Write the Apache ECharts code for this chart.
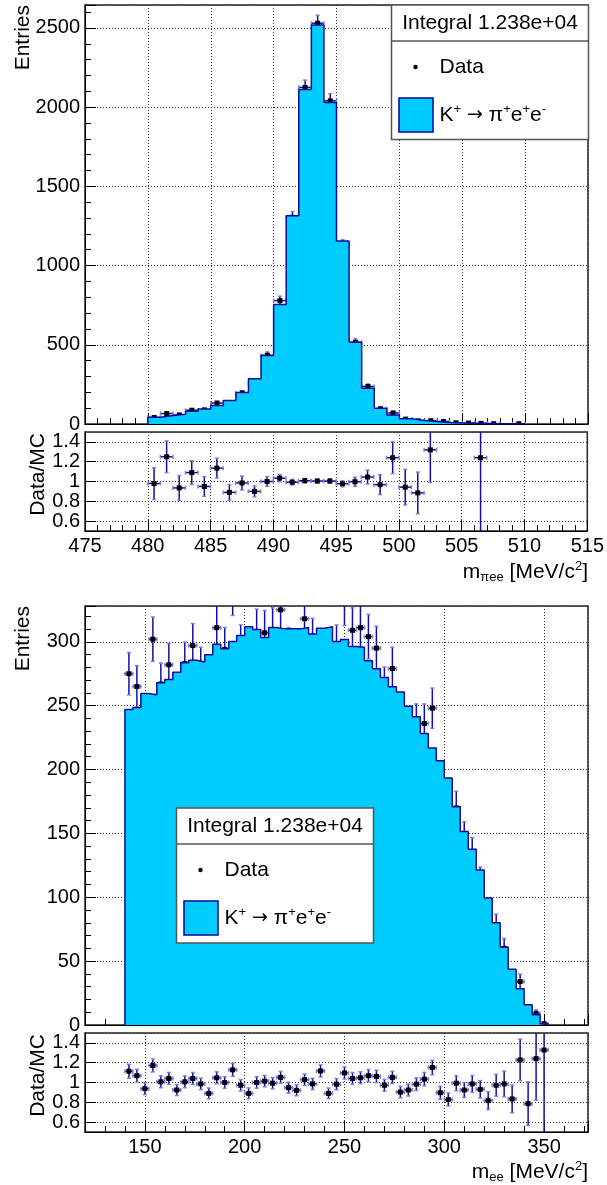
<!DOCTYPE html>
<html>
<head>
<meta charset="utf-8">
<script src="https://cdn.jsdelivr.net/npm/echarts@6/dist/echarts.min.js"></script>
<style>
html, body { margin: 0; padding: 0; background: #fff; }
#chart { width: 607px; height: 1185px; }
</style>
</head>
<body>
<div id="chart"></div>
<script>
// upper plot: m(pi ee), 1 MeV bins
const topCenters = [480.5, 481.5, 482.5, 483.5, 484.5, 485.5, 486.5, 487.5, 488.5, 489.5,
    490.5, 491.5, 492.5, 493.5, 494.5, 495.5, 496.5, 497.5, 498.5, 499.5,
    500.5, 501.5, 502.5, 503.5, 504.5, 505.5, 506.5, 507.5, 508.5, 509.5];
const topMC = [42, 53, 61, 80, 94, 116, 148, 199, 285, 432,
    755, 1315, 2112, 2518, 2030, 1155, 516, 226, 99, 57,
    33, 22, 16, 10, 6, 4, 3, 2, 1, 1];
const topData = [41, 66, 57, 87, 89, 132, 131, 196, 256, 434,
    779, 1305, 2125, 2530, 2040, 1130, 516, 237, 96, 70,
    31, 20, 21, 16, 8, 6, 4, 2, null, 2];
const topRatio = [0.98, 1.25, 0.935, 1.09, 0.95, 1.135, 0.89, 0.985, 0.9, 1.0,
    1.034, 0.993, 1.008, 1.005, 1.005, 0.977, 0.998, 1.045, 0.968, 1.24,
    0.943, 0.885, 1.32, null, null, null, 1.24, null, null, null];
const topRatioErr = [0.16, 0.16, 0.125, 0.12, 0.1, 0.1, 0.08, 0.07, 0.055, 0.048,
    0.037, 0.028, 0.022, 0.02, 0.022, 0.03, 0.045, 0.07, 0.1, 0.16,
    0.18, 0.21, 0.33, null, null, null, 1.5, null, null, null];

// lower plot: m(ee), 4 MeV bins
const bottomCenters = [142, 146, 150, 154, 158, 162, 166, 170, 174, 178,
    182, 186, 190, 194, 198, 202, 206, 210, 214, 218,
    222, 226, 230, 234, 238, 242, 246, 250, 254, 258,
    262, 266, 270, 274, 278, 282, 286, 290, 294, 298,
    302, 306, 310, 314, 318, 322, 326, 330, 334, 338,
    342, 346, 350];
const bottomMC = [247, 248.6, 259.5, 258.5, 267.9, 270.5, 276.2, 283.5, 285.6, 284.1,
    289.8, 298.1, 294.5, 300.2, 304.9, 311.7, 309.6, 303.3, 311.2, 310.1,
    310.1, 310.1, 311.2, 306.0, 310.6, 311.7, 300.2, 301.8, 296.3, 295.8,
    285.1, 278.8, 272.0, 264.7, 260.6, 249.6, 241.3, 228.2, 216.8, 206.8,
    193.3, 170.8, 151.5, 137.5, 121.3, 99.4, 80.1, 60.8, 43.6, 28.4,
    15.9, 8.1, 1.0];
const bottomData = [275, 265, 243, 302, 267, 282, 255, 283, 297, 279,
    259, 311, 294, 339, 296, 276, 308, 307, 309, 325,
    294, 285, 318, 301, 347, 276, 296, 331, 309, 311,
    304, 295, 264, 279, 235, 230, 236, 236, 248, 185,
    160, 170, 147, 135, 113, 82, 78, 60, 36, 34,
    12, 9, 1];
const bottomRatio = [1.114, 1.069, 0.938, 1.172, 1.007, 1.041, 0.924, 1.007, 1.041, 0.986,
    0.890, 1.048, 1.0, 1.128, 0.972, 0.890, 1.0, 1.014, 0.993, 1.052,
    0.948, 0.921, 1.028, 0.986, 1.117, 0.890, 0.983, 1.097, 1.041, 1.048,
    1.069, 1.062, 0.972, 1.052, 0.903, 0.924, 0.983, 1.034, 1.152, 0.897,
    0.828, 0.993, 0.924, 0.986, 0.931, 0.817, 0.972, 0.986, 0.834, 1.228,
    0.786, 1.241, 1.328];
const bottomRatioErr = [0.07, 0.065, 0.06, 0.065, 0.06, 0.06, 0.055, 0.06, 0.06, 0.058,
    0.055, 0.06, 0.058, 0.065, 0.057, 0.055, 0.058, 0.058, 0.057, 0.06,
    0.055, 0.055, 0.058, 0.057, 0.062, 0.053, 0.057, 0.062, 0.06, 0.06,
    0.062, 0.062, 0.06, 0.062, 0.058, 0.06, 0.064, 0.068, 0.073, 0.066,
    0.066, 0.076, 0.076, 0.085, 0.088, 0.09, 0.11, 0.13, 0.14, 0.21,
    0.22, 0.42, 1.3];

const FONT = "'Liberation Sans', Arial, Helvetica, sans-serif";
const FILL = "#00ccff";
const LINE = "#0a0a9c";
const ERR = "#1010a8";
const CAP = "#7d7de0";

// outline of a histogram for a step line
function stepPoints (centers, values, width) {
    const pts = [[centers[0] - width / 2, 0]];
    centers.forEach((c, i) => pts.push([c - width / 2, values[i]]));
    const hi = centers[centers.length - 1] + width / 2;
    pts.push([hi, values[values.length - 1]]);
    pts.push([hi, 0]);
    return pts;
}

// [x, y, half bin width, y error]
function pointsWithErr (centers, values, errs, width) {
    const out = [];
    centers.forEach((c, i) => {
        if (values[i] == null) return;
        const e = errs ? errs[i] : Math.sqrt(values[i]);
        out.push([c, values[i], width / 2, e]);
    });
    return out;
}

function renderErr (params, api) {
    const x = api.value(0), y = api.value(1), ex = api.value(2), ey = api.value(3);
    const c = api.coord([x, y]);
    const l = api.coord([x - ex, y]);
    const r = api.coord([x + ex, y]);
    const t = api.coord([x, y + ey]);
    const b = api.coord([x, y - ey]);
    const s = { stroke: ERR, lineWidth: 1.5 };
    const cs = { stroke: CAP, lineWidth: 1.5 };
    return {
        type: "group",
        children: [
            { type: "line", shape: { x1: c[0], y1: t[1], x2: c[0], y2: b[1] }, style: s },
            { type: "line", shape: { x1: l[0], y1: c[1], x2: r[0], y2: c[1] }, style: s },
            { type: "line", shape: { x1: c[0] - 2, y1: t[1], x2: c[0] + 2, y2: t[1] }, style: cs },
            { type: "line", shape: { x1: c[0] - 2, y1: b[1], x2: c[0] + 2, y2: b[1] }, style: cs },
            { type: "line", shape: { x1: l[0], y1: c[1] - 2, x2: l[0], y2: c[1] + 2 }, style: cs },
            { type: "line", shape: { x1: r[0], y1: c[1] - 2, x2: r[0], y2: c[1] + 2 }, style: cs },
            { type: "rect", shape: { x: c[0] - 2.5, y: c[1] - 2.5, width: 5, height: 5 }, style: { fill: "#000" } }
        ]
    };
}

function labels (extra) {
    return Object.assign({
        show: true, fontSize: 20, color: "#000", fontFamily: FONT, margin: 5,
        formatter: v => String(v)
    }, extra);
}

function axis (gridIndex, extra) {
    return Object.assign({
        gridIndex: gridIndex,
        type: "value",
        axisLine: { show: true, onZero: false, lineStyle: { color: "#000", width: 1 } },
        axisTick: { show: true, inside: true, length: 11, lineStyle: { color: "#000" } },
        minorTick: { show: true, splitNumber: 5, length: 6, lineStyle: { color: "#000" } },
        splitLine: { show: true, lineStyle: { color: "#333", type: [1, 2], width: 1 } },
        axisLabel: labels({})
    }, extra);
}

const labelsOff = { show: false };
const rich = {
    n: { fontSize: 21, fontFamily: FONT, color: "#000", lineHeight: 24, verticalAlign: "middle" },
    arr: { fontSize: 19, fontFamily: "'DejaVu Sans', sans-serif", color: "#000", lineHeight: 24, verticalAlign: "middle" },
    sup: { fontSize: 13, fontFamily: FONT, color: "#000", lineHeight: 13, verticalAlign: "top" },
    sub: { fontSize: 13, fontFamily: FONT, color: "#000", lineHeight: 13, verticalAlign: "bottom" }
};

function text (x, y, str, align, rot) {
    return {
        type: "text", x: x, y: y, rotation: rot || 0, z: 100,
        style: { text: str, rich: rich, fontSize: 21, fontFamily: FONT, fill: "#000", align: align, verticalAlign: "middle" }
    };
}

function legend (x0, y0, x1, y1) {
    const w = x1 - x0;
    const divY = y0 + 36;
    return [
        { type: "rect", z: 90, shape: { x: x0, y: y0, width: w, height: y1 - y0 }, style: { fill: "#fff", stroke: "#555", lineWidth: 1.5 } },
        { type: "line", z: 91, shape: { x1: x0, y1: divY, x2: x1, y2: divY }, style: { stroke: "#555", lineWidth: 1.5 } },
        text(x0 + w / 2, y0 + 18, "Integral 1.238e+04", "center"),
        { type: "circle", z: 92, shape: { cx: x0 + 24, cy: y0 + 62, r: 2.2 }, style: { fill: "#000" } },
        text(x0 + 48, y0 + 62, "Data", "left"),
        { type: "rect", z: 92, shape: { x: x0 + 7.5, y: y0 + 93, width: 34, height: 34 }, style: { fill: FILL, stroke: "#0000aa", lineWidth: 1.5 } },
        text(x0 + 48, y0 + 110, "{n|K}{sup|+}{n| }{arr|\u2192}{n| \u03c0}{sup|+}{n|e}{sup|+}{n|e}{sup|-}", "left")
    ];
}

const chart = echarts.init(document.getElementById("chart"), null, { renderer: "canvas" });

const grids = [
    { left: 85, right: 19, top: 5, height: 419 },
    { left: 85, right: 19, top: 432, height: 99 },
    { left: 85, right: 19, top: 606, height: 419 },
    { left: 85, right: 19, top: 1033, height: 99 }
].map(g => Object.assign({ show: true, borderColor: "#222", borderWidth: 1.5, backgroundColor: "transparent" }, g));

const option = {
    animation: false,
    grid: grids,
    xAxis: [
        axis(0, { min: 475, max: 515, interval: 5, axisLabel: labelsOff }),
        axis(1, { min: 475, max: 515, interval: 5 }),
        axis(2, { min: 120, max: 372, splitNumber: 5, axisLabel: labelsOff }),
        axis(3, { min: 120, max: 372, splitNumber: 5,
            axisLabel: labels({ showMinLabel: false, showMaxLabel: false }) })
    ],
    yAxis: [
        axis(0, { min: 0, max: 2645, splitNumber: 5, axisLabel: labels({ showMaxLabel: false }) }),
        axis(1, { min: 0.5, max: 1.5, splitNumber: 5, minorTick: { show: false },
            axisLabel: labels({ showMinLabel: false, showMaxLabel: false }) }),
        axis(2, { min: 0, max: 328, interval: 50, axisLabel: labels({ showMaxLabel: false }) }),
        axis(3, { min: 0.5, max: 1.5, splitNumber: 5, minorTick: { show: false },
            axisLabel: labels({ showMinLabel: false, showMaxLabel: false }) })
    ],
    series: [
        {
            type: "line", xAxisIndex: 0, yAxisIndex: 0, step: "end", symbol: "none",
            data: stepPoints(topCenters, topMC, 1),
            lineStyle: { color: LINE, width: 1.5 },
            areaStyle: { color: FILL, opacity: 1 }
        },
        {
            type: "custom", xAxisIndex: 0, yAxisIndex: 0, clip: true,
            renderItem: renderErr,
            data: pointsWithErr(topCenters, topData, null, 1)
        },
        {
            type: "custom", xAxisIndex: 1, yAxisIndex: 1, clip: true,
            renderItem: renderErr,
            data: pointsWithErr(topCenters, topRatio, topRatioErr, 1)
        },
        {
            type: "line", xAxisIndex: 2, yAxisIndex: 2, step: "end", symbol: "none",
            data: stepPoints(bottomCenters, bottomMC, 4),
            lineStyle: { color: LINE, width: 1.5 },
            areaStyle: { color: FILL, opacity: 1 }
        },
        {
            type: "custom", xAxisIndex: 2, yAxisIndex: 2, clip: true,
            renderItem: renderErr,
            data: pointsWithErr(bottomCenters, bottomData, null, 4)
        },
        {
            type: "custom", xAxisIndex: 3, yAxisIndex: 3, clip: true,
            renderItem: renderErr,
            data: pointsWithErr(bottomCenters, bottomRatio, bottomRatioErr, 4)
        }
    ],
    graphic: [
        text(23, 5, "Entries", "right", Math.PI / 2),
        text(38, 433, "Data/MC", "right", Math.PI / 2),
        text(23, 606, "Entries", "right", Math.PI / 2),
        text(38, 1034, "Data/MC", "right", Math.PI / 2),
        text(588, 572, "{n|m}{sub|\u03c0ee}{n| [MeV/c}{sup|2}{n|]}", "right"),
        text(588, 1172, "{n|m}{sub|ee}{n| [MeV/c}{sup|2}{n|]}", "right")
    ].concat(legend(391.5, 5, 588.5, 139.5), legend(176.5, 808, 373.5, 943))
};

chart.setOption(option);
</script>
</body>
</html>
